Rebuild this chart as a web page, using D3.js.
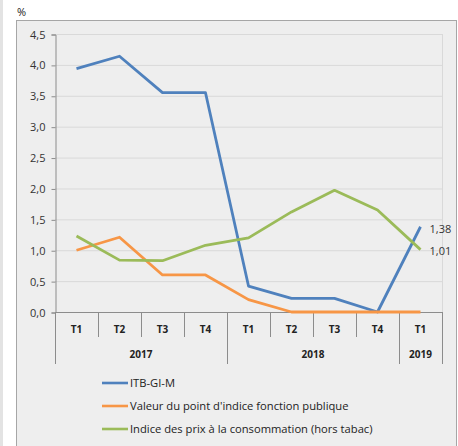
<!DOCTYPE html>
<html>
<head>
<meta charset="utf-8">
<script src="https://cdn.jsdelivr.net/npm/d3@7"></script>
<style>
  html, body { margin: 0; padding: 0; background: #fff; }
  svg { display: block; font-family: "Open Sans", "Liberation Sans", sans-serif; }
</style>
</head>
<body>
<div id="chart"></div>
<script>
// quarters and years
const quarters = ["T1", "T2", "T3", "T4", "T1", "T2", "T3", "T4", "T1"];
const years = [
  { label: "2017", from: 0, to: 4 },
  { label: "2018", from: 4, to: 8 },
  { label: "2019", from: 8, to: 9 }
];
const yTicks = [0, 0.5, 1, 1.5, 2, 2.5, 3, 3.5, 4, 4.5];

// series values (%)
const itb = [3.94, 4.14, 3.55, 3.55, 0.42, 0.22, 0.22, 0.0, 1.38];
const pointIndice = [1.0, 1.21, 0.6, 0.6, 0.2, 0.0, 0.0, 0.0, 0.0];
const ipc = [1.23, 0.84, 0.83, 1.08, 1.2, 1.62, 1.97, 1.65, 1.01];

const series = [
  { name: "ITB-GI-M", values: itb, color: "#4f81bd" },
  { name: "Valeur du point d'indice fonction publique", values: pointIndice, color: "#f79646" },
  { name: "Indice des prix à la consommation (hors tabac)", values: ipc, color: "#9bbb59" }
];

const width = 458, height = 446;
const plot = { left: 55, right: 442, top: 34, bottom: 312 };

const svg = d3.select("#chart").append("svg")
  .attr("width", width).attr("height", height);

// page edge strip + chart frame
svg.append("rect").attr("x", 0).attr("y", 0).attr("width", 3).attr("height", height).attr("fill", "#e3e3e3");
svg.append("rect")
  .attr("x", 16.5).attr("y", 20.5).attr("width", 440).attr("height", 430)
  .attr("fill", "#eeeeee").attr("stroke", "#a6a6a6");

svg.append("text").attr("x", 17).attr("y", 16).attr("font-size", 11).attr("fill", "#222").text("%");

const x = d3.scaleBand().domain(d3.range(quarters.length)).range([plot.left, plot.right]);
const y = d3.scaleLinear().domain([0, 4.5]).range([plot.bottom, plot.top]);

// gridlines
svg.append("g").selectAll("line").data(yTicks.filter(d => d > 0)).join("line")
  .attr("x1", plot.left).attr("x2", plot.right)
  .attr("y1", d => y(d) + 0.5).attr("y2", d => y(d) + 0.5)
  .attr("stroke", "#d9d9d9");
svg.append("line")
  .attr("x1", plot.right + 0.5).attr("x2", plot.right + 0.5)
  .attr("y1", plot.top).attr("y2", plot.bottom)
  .attr("stroke", "#d9d9d9");

// y axis
const fmt = d => d3.format(".1f")(d).replace(".", ",");
const yAxis = svg.append("g").attr("transform", `translate(${plot.left + 0.5},0.5)`)
  .call(d3.axisLeft(y).tickValues(yTicks).tickFormat(fmt).tickSize(4).tickPadding(6));
yAxis.select(".domain").attr("stroke", "#8c8c8c");
yAxis.selectAll(".tick line").attr("stroke", "#8c8c8c");
yAxis.selectAll(".tick text").attr("font-size", 11).attr("fill", "#333").attr("font-family", "Open Sans");

// category axis
const catG = svg.append("g");
catG.append("line")
  .attr("x1", plot.left).attr("x2", plot.right)
  .attr("y1", plot.bottom + 0.5).attr("y2", plot.bottom + 0.5)
  .attr("stroke", "#8c8c8c");
const bounds = d3.range(quarters.length + 1);
const yearBounds = new Set([0, ...years.map(d => d.to)]);
catG.selectAll("line.sep").data(bounds).join("line")
  .attr("class", "sep")
  .attr("x1", i => Math.round(plot.left + i * x.step()) + 0.5)
  .attr("x2", i => Math.round(plot.left + i * x.step()) + 0.5)
  .attr("y1", plot.bottom)
  .attr("y2", i => yearBounds.has(i) ? 364 : 337)
  .attr("stroke", "#8c8c8c");
catG.selectAll("text.q").data(quarters).join("text")
  .attr("class", "q")
  .attr("x", (d, i) => x(i) + x.bandwidth() / 2)
  .attr("y", 333)
  .attr("text-anchor", "middle").attr("font-size", 10).attr("font-weight", "bold").attr("fill", "#222")
  .text(d => d);
catG.selectAll("text.yr").data(years).join("text")
  .attr("class", "yr")
  .attr("x", d => (x(d.from) + x(d.to - 1) + x.bandwidth()) / 2)
  .attr("y", 358)
  .attr("text-anchor", "middle").attr("font-size", 10).attr("font-weight", "bold").attr("fill", "#222")
  .text(d => d.label);

// lines
const line = d3.line().x((d, i) => x(i) + x.bandwidth() / 2).y(d => y(d));
svg.append("g").selectAll("path").data(series).join("path")
  .attr("d", d => line(d.values))
  .attr("fill", "none")
  .attr("stroke", d => d.color)
  .attr("stroke-width", 2.8)
  .attr("stroke-linejoin", "round");

// end labels
const last = quarters.length - 1;
[itb, ipc].forEach(vals => {
  svg.append("text")
    .attr("x", x(last) + x.bandwidth() / 2 + 9)
    .attr("y", y(vals[last]) + 2)
    .attr("dy", "0.35em")
    .attr("font-size", 11).attr("fill", "#333")
    .text(d3.format(".2f")(vals[last]).replace(".", ","));
});

// legend
const lg = svg.append("g").selectAll("g").data(series).join("g")
  .attr("transform", (d, i) => `translate(102,${383 + i * 23})`);
lg.append("line").attr("x1", 0).attr("x2", 26).attr("stroke", d => d.color).attr("stroke-width", 2.6);
lg.append("text").attr("x", 28).attr("dy", "0.35em").attr("font-size", 11.2).attr("fill", "#222")
  .text(d => d.name);
</script>
</body>
</html>
